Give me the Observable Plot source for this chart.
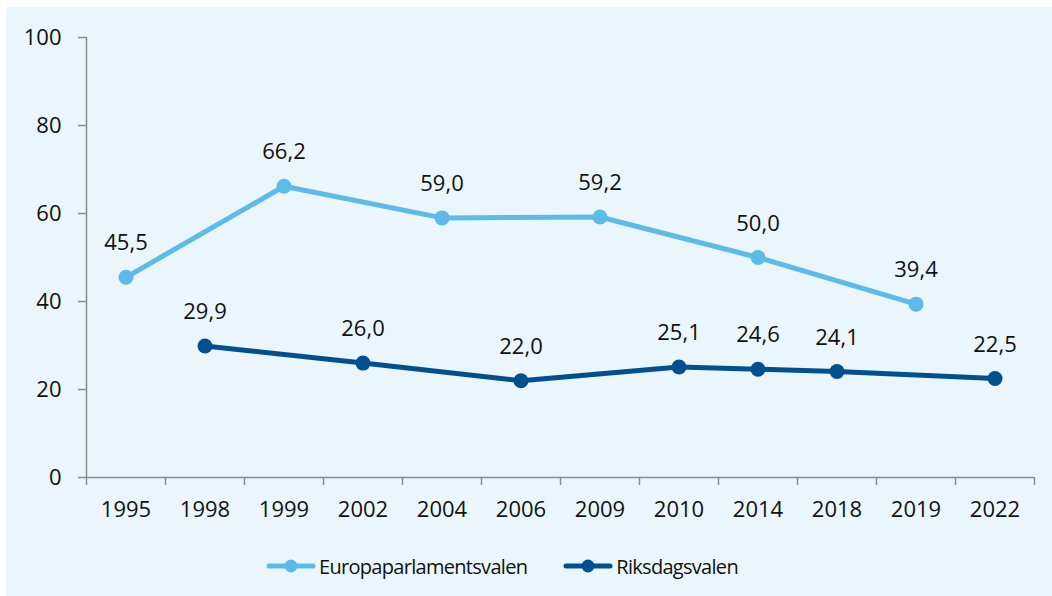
<!DOCTYPE html>
<html><head><meta charset="utf-8">
<script src="https://cdn.jsdelivr.net/npm/d3@7"></script>
<script src="https://cdn.jsdelivr.net/npm/@observablehq/plot@0.6"></script>
<style>
body{margin:0;background:#fff;font-family:"Open Sans",sans-serif;overflow:hidden;}
#wrap{position:absolute;left:6px;top:7px;width:1046px;height:589px;background:#eaf6fc;}
#chart{position:absolute;left:0;top:0;}
#legend{position:absolute;left:260px;top:540px;height:38px;display:flex;align-items:center;gap:36px;font-size:20px;letter-spacing:-0.7px;color:#111;}
.item{display:flex;align-items:center;gap:3px;}
</style></head><body>
<div id="wrap"><div id="chart"></div><div id="legend"></div></div>
<script>
const years = ["1995","1998","1999","2002","2004","2006","2009","2010","2014","2018","2019","2022"];
const euYears = ["1995","1999","2004","2009","2014","2019"];
const euValues = [45.5, 66.2, 59.0, 59.2, 50.0, 39.4];
const rdYears = ["1998","2002","2006","2010","2014","2018","2022"];
const rdValues = [29.9, 26.0, 22.0, 25.1, 24.6, 24.1, 22.5];
const seriesNames = ["Europaparlamentsvalen", "Riksdagsvalen"];
const seriesColors = ["#5cbbe8", "#004f8f"];
const yTicks = [0, 20, 40, 60, 80, 100];

const idx = y => years.indexOf(y) + 0.5;
const eu = euYears.map((y, i) => ({x: idx(y), v: euValues[i]}));
const rd = rdYears.map((y, i) => ({x: idx(y), v: rdValues[i]}));
const fmt = v => v.toFixed(1).replace(".", ",");
const axisColor = "#8c8c8c";

const seriesMarks = (data, color) => [
  Plot.line(data, {x: "x", y: "v", stroke: color, strokeWidth: 5, strokeLinejoin: "round", strokeLinecap: "round"}),
  Plot.dot(data, {x: "x", y: "v", r: 7.5, fill: color, stroke: "none"}),
  Plot.text(data, {x: "x", y: "v", text: d => fmt(d.v), dy: -34, fontSize: 22, fill: "#111"})
];

const chart = Plot.plot({
  width: 1046, height: 520,
  marginLeft: 80, marginTop: 30, marginRight: 18, marginBottom: 50,
  style: {background: "transparent", fontFamily: "Open Sans, sans-serif", fontSize: "22px", color: "#111"},
  x: {domain: [0, years.length]},
  y: {domain: [0, 100]},
  marks: [
    Plot.axisY({ticks: yTicks, tickSize: 8, tickPadding: 17, stroke: axisColor, strokeWidth: 1.5, strokeOpacity: 1, label: null, fontSize: 22, fill: "#111"}),
    Plot.axisX({ticks: d3.range(years.length + 1), tickSize: 8, tickFormat: () => "", stroke: axisColor, strokeWidth: 1.5, strokeOpacity: 1, label: null}),
    Plot.axisX({ticks: d3.range(years.length).map(i => i + 0.5), tickSize: 0, tickPadding: 24, tickFormat: t => years[Math.floor(t)], label: null, fontSize: 22, fill: "#111"}),
    Plot.ruleX([0], {stroke: axisColor, strokeWidth: 1.5}),
    Plot.ruleY([0], {stroke: axisColor, strokeWidth: 1.5}),
    ...seriesMarks(eu, seriesColors[0]),
    ...seriesMarks(rd, seriesColors[1])
  ]
});
document.getElementById("chart").append(chart);

const legend = document.getElementById("legend");
seriesNames.forEach((name, i) => {
  const item = document.createElement("div");
  item.className = "item";
  item.innerHTML = `<svg width="50" height="16"><line x1="3" y1="8" x2="47" y2="8" stroke="${seriesColors[i]}" stroke-width="5" stroke-linecap="round"/><circle cx="25" cy="8" r="6.5" fill="${seriesColors[i]}"/></svg><span>${name}</span>`;
  legend.append(item);
});
</script>
</body></html>
